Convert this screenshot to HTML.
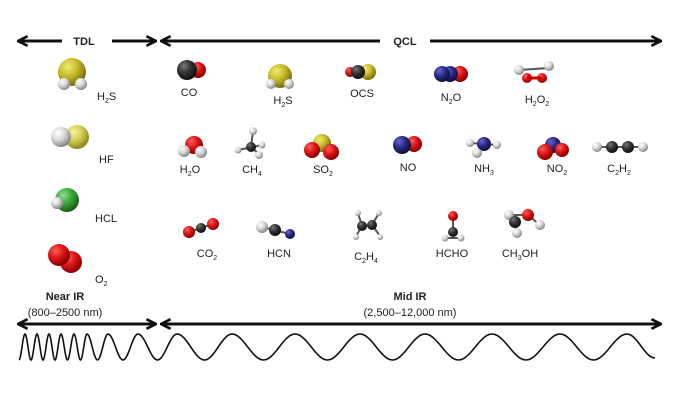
<!DOCTYPE html>
<html><head><meta charset="utf-8"><style>
html,body{margin:0;padding:0;background:#fff;}
svg{display:block;font-family:"Liberation Sans",sans-serif;}
text{font-size:11px;fill:#222;}
</style></head><body>
<svg id="s" width="680" height="400" viewBox="0 0 680 400" xmlns="http://www.w3.org/2000/svg">
<defs>
<radialGradient id="Y" cx="35%" cy="30%" r="70%"><stop offset="0" stop-color="#f0ea70"/><stop offset=".5" stop-color="#c8bb2a"/><stop offset="1" stop-color="#7a7010"/></radialGradient>
<radialGradient id="LY" cx="35%" cy="30%" r="70%"><stop offset="0" stop-color="#f4f0a0"/><stop offset=".5" stop-color="#d4d050"/><stop offset="1" stop-color="#8a8a20"/></radialGradient>
<radialGradient id="H" cx="35%" cy="30%" r="70%"><stop offset="0" stop-color="#ffffff"/><stop offset=".5" stop-color="#d8d8d8"/><stop offset="1" stop-color="#888"/></radialGradient>
<radialGradient id="R" cx="35%" cy="30%" r="70%"><stop offset="0" stop-color="#ff6060"/><stop offset=".5" stop-color="#dd1515"/><stop offset="1" stop-color="#800"/></radialGradient>
<radialGradient id="C" cx="35%" cy="30%" r="70%"><stop offset="0" stop-color="#777"/><stop offset=".5" stop-color="#333"/><stop offset="1" stop-color="#111"/></radialGradient>
<radialGradient id="B" cx="35%" cy="30%" r="70%"><stop offset="0" stop-color="#6a6ad0"/><stop offset=".5" stop-color="#2a2a88"/><stop offset="1" stop-color="#101040"/></radialGradient>
<radialGradient id="G" cx="35%" cy="30%" r="70%"><stop offset="0" stop-color="#90e090"/><stop offset=".5" stop-color="#3aa83a"/><stop offset="1" stop-color="#1a601a"/></radialGradient>
<marker id="ah" viewBox="0 0 10 10" refX="9" refY="5" markerWidth="4" markerHeight="4" orient="auto-start-reverse"><path d="M1,1 L9,5 L1,9" fill="none" stroke="#111" stroke-width="2.2"/></marker>
</defs>
<g stroke="#111" stroke-width="3" fill="none">
<line x1="18" y1="41" x2="62" y2="41" marker-start="url(#ah)"/>
<line x1="112" y1="41" x2="156" y2="41" marker-end="url(#ah)"/>
<line x1="161" y1="41" x2="380" y2="41" marker-start="url(#ah)"/>
<line x1="430" y1="41" x2="661" y2="41" marker-end="url(#ah)"/>
<line x1="18" y1="324" x2="156" y2="324" marker-start="url(#ah)" marker-end="url(#ah)"/>
<line x1="161" y1="324" x2="661" y2="324" marker-start="url(#ah)" marker-end="url(#ah)"/>
</g>
<text x="84" y="45" text-anchor="middle" font-weight="bold">TDL</text>
<text x="405" y="45" text-anchor="middle" font-weight="bold">QCL</text>
<text x="65" y="300" text-anchor="middle" font-weight="bold">Near IR</text>
<text x="65" y="316" text-anchor="middle">(800–2500 nm)</text>
<text x="410" y="300" text-anchor="middle" font-weight="bold">Mid IR</text>
<text x="410" y="316" text-anchor="middle">(2,500–12,000 nm)</text>
<path id="wave" fill="none" stroke="#111" stroke-width="1.6"/>

<g stroke="#555" stroke-width="2">
<line x1="519" y1="70" x2="549" y2="68"/>
<line x1="238" y1="150" x2="262" y2="145"/><line x1="251" y1="147" x2="253" y2="131"/><line x1="251" y1="147" x2="259" y2="154"/>
<line x1="470" y1="143" x2="497" y2="145"/><line x1="483" y1="145" x2="478" y2="153"/>
<line x1="597" y1="147" x2="643" y2="147"/>
<line x1="189" y1="232" x2="213" y2="224"/><line x1="262" y1="227" x2="290" y2="234"/>
<line x1="358" y1="213" x2="362" y2="226"/><line x1="379" y1="213" x2="372" y2="225"/><line x1="356" y1="236" x2="362" y2="226"/><line x1="380" y1="236" x2="372" y2="225"/><line x1="362" y1="226" x2="372" y2="225"/>
<line x1="453" y1="216" x2="453" y2="232"/><line x1="445" y1="238" x2="461" y2="238"/>
<line x1="509" y1="215" x2="528" y2="215"/><line x1="515" y1="222" x2="516" y2="233"/><line x1="528" y1="215" x2="540" y2="225"/>
</g>
<!-- row1 -->
<circle cx="72" cy="72" r="14" fill="url(#Y)"/><circle cx="64" cy="84" r="6" fill="url(#H)"/><circle cx="81" cy="84" r="6" fill="url(#H)"/>
<circle cx="198" cy="70" r="8" fill="url(#R)"/><circle cx="187" cy="70" r="10" fill="url(#C)"/>
<circle cx="280" cy="76" r="12" fill="url(#Y)"/><circle cx="271" cy="84" r="5" fill="url(#H)"/><circle cx="289" cy="84" r="5" fill="url(#H)"/>
<circle cx="350" cy="72" r="5" fill="url(#R)"/><circle cx="368" cy="72" r="8" fill="url(#Y)"/><circle cx="358" cy="72" r="7" fill="url(#C)"/>
<circle cx="460" cy="74" r="8" fill="url(#R)"/><circle cx="450" cy="74" r="8" fill="url(#B)"/><circle cx="442" cy="74" r="8" fill="url(#B)"/>
<circle cx="519" cy="70" r="5" fill="url(#H)"/><circle cx="549" cy="66" r="5" fill="url(#H)"/><circle cx="527" cy="78" r="5" fill="url(#R)"/><circle cx="542" cy="78" r="5" fill="url(#R)"/>
<line x1="527" y1="78" x2="542" y2="78" stroke="#c00" stroke-width="3"/>
<!-- row2 -->
<circle cx="77" cy="137" r="12" fill="url(#LY)"/><circle cx="61" cy="137" r="10" fill="url(#H)"/>
<circle cx="194" cy="145" r="9" fill="url(#R)"/><circle cx="184" cy="151" r="6" fill="url(#H)"/><circle cx="201" cy="152" r="6" fill="url(#H)"/>
<circle cx="253" cy="131" r="4" fill="url(#H)"/><circle cx="238" cy="150" r="3.5" fill="url(#H)"/><circle cx="262" cy="145" r="3.5" fill="url(#H)"/><circle cx="251" cy="147" r="5" fill="url(#C)"/><circle cx="259" cy="155" r="4" fill="url(#H)"/>
<circle cx="322" cy="143" r="9" fill="url(#Y)"/><circle cx="312" cy="150" r="8" fill="url(#R)"/><circle cx="331" cy="152" r="8" fill="url(#R)"/>
<circle cx="414" cy="144" r="8" fill="url(#R)"/><circle cx="402" cy="145" r="9" fill="url(#B)"/>
<circle cx="470" cy="143" r="4" fill="url(#H)"/><circle cx="497" cy="145" r="4" fill="url(#H)"/><circle cx="484" cy="144" r="7" fill="url(#B)"/><circle cx="477" cy="153" r="5" fill="url(#H)"/>
<circle cx="553" cy="145" r="8" fill="url(#B)"/><circle cx="545" cy="152" r="8" fill="url(#R)"/><circle cx="562" cy="150" r="7" fill="url(#R)"/>
<circle cx="597" cy="147" r="5" fill="url(#H)"/><circle cx="643" cy="147" r="5" fill="url(#H)"/><circle cx="612" cy="147" r="6" fill="url(#C)"/><circle cx="628" cy="147" r="6" fill="url(#C)"/>
<!-- row3 -->
<circle cx="67" cy="200" r="12" fill="url(#G)"/><circle cx="57" cy="203" r="6" fill="url(#H)"/>
<circle cx="71" cy="262" r="11" fill="url(#R)"/><circle cx="59" cy="255" r="11" fill="url(#R)"/>
<circle cx="189" cy="232" r="6" fill="url(#R)"/><circle cx="213" cy="224" r="6" fill="url(#R)"/><circle cx="201" cy="228" r="5" fill="url(#C)"/>
<circle cx="290" cy="234" r="5" fill="url(#B)"/><circle cx="262" cy="227" r="6" fill="url(#H)"/><circle cx="275" cy="230" r="6" fill="url(#C)"/>
<circle cx="358" cy="213" r="3" fill="url(#H)"/><circle cx="379" cy="213" r="3" fill="url(#H)"/><circle cx="362" cy="226" r="5" fill="url(#C)"/><circle cx="372" cy="225" r="5" fill="url(#C)"/><circle cx="356" cy="237" r="3" fill="url(#H)"/><circle cx="380" cy="237" r="3" fill="url(#H)"/>
<circle cx="453" cy="216" r="5" fill="url(#R)"/><circle cx="453" cy="232" r="5" fill="url(#C)"/><circle cx="445" cy="238" r="3.5" fill="url(#H)"/><circle cx="461" cy="238" r="3.5" fill="url(#H)"/>
<circle cx="509" cy="215" r="5" fill="url(#H)"/><circle cx="515" cy="222" r="6" fill="url(#C)"/><circle cx="528" cy="215" r="6" fill="url(#R)"/><circle cx="540" cy="225" r="5" fill="url(#H)"/><circle cx="517" cy="233" r="5" fill="url(#H)"/>
<!-- labels -->
<g>
<text x="97" y="100">H<tspan font-size="7" dy="3">2</tspan><tspan dy="-3">S</tspan></text>
<text x="189" y="96" text-anchor="middle">CO</text>
<text x="283" y="104" text-anchor="middle">H<tspan font-size="7" dy="3">2</tspan><tspan dy="-3">S</tspan></text>
<text x="362" y="97" text-anchor="middle">OCS</text>
<text x="451" y="101" text-anchor="middle">N<tspan font-size="7" dy="3">2</tspan><tspan dy="-3">O</tspan></text>
<text x="537" y="103" text-anchor="middle">H<tspan font-size="7" dy="3">2</tspan><tspan dy="-3">O</tspan><tspan font-size="7" dy="3">2</tspan></text>
<text x="99" y="163">HF</text>
<text x="190" y="173" text-anchor="middle">H<tspan font-size="7" dy="3">2</tspan><tspan dy="-3">O</tspan></text>
<text x="252" y="173" text-anchor="middle">CH<tspan font-size="7" dy="3">4</tspan></text>
<text x="323" y="173" text-anchor="middle">SO<tspan font-size="7" dy="3">2</tspan></text>
<text x="408" y="171" text-anchor="middle">NO</text>
<text x="484" y="172" text-anchor="middle">NH<tspan font-size="7" dy="3">3</tspan></text>
<text x="557" y="172" text-anchor="middle">NO<tspan font-size="7" dy="3">2</tspan></text>
<text x="619" y="172" text-anchor="middle">C<tspan font-size="7" dy="3">2</tspan><tspan dy="-3">H</tspan><tspan font-size="7" dy="3">2</tspan></text>
<text x="95" y="222">HCL</text>
<text x="95" y="283">O<tspan font-size="7" dy="3">2</tspan></text>
<text x="207" y="257" text-anchor="middle">CO<tspan font-size="7" dy="3">2</tspan></text>
<text x="279" y="257" text-anchor="middle">HCN</text>
<text x="366" y="260" text-anchor="middle">C<tspan font-size="7" dy="3">2</tspan><tspan dy="-3">H</tspan><tspan font-size="7" dy="3">4</tspan></text>
<text x="452" y="257" text-anchor="middle">HCHO</text>
<text x="520" y="257" text-anchor="middle">CH<tspan font-size="7" dy="3">3</tspan><tspan dy="-3">OH</tspan></text>
</g>
</svg>
<script>
(function(){
var peaks=[25,37,49,61,74,87,108,138,177,232,295,360,425,492,560,627];
var top=334,bot=360;
var ext=[[19,bot]];
for(var i=0;i<peaks.length;i++){
 ext.push([peaks[i],top]);
 var nx = i<peaks.length-1 ? (peaks[i]+peaks[i+1])/2 : 655;
 ext.push([nx, i<peaks.length-1?bot:358]);
}
var d="M"+ext[0][0]+","+ext[0][1];
for(var j=1;j<ext.length;j++){
 var a=ext[j-1],b=ext[j];
 for(var k=1;k<=12;k++){
  var t=k/12;var x=a[0]+(b[0]-a[0])*t;var y=a[1]+(b[1]-a[1])*(1-Math.cos(Math.PI*t))/2;
  d+=" L"+x.toFixed(2)+","+y.toFixed(2);
 }
}
document.getElementById("wave").setAttribute("d",d);
})();
</script>
</body></html>
